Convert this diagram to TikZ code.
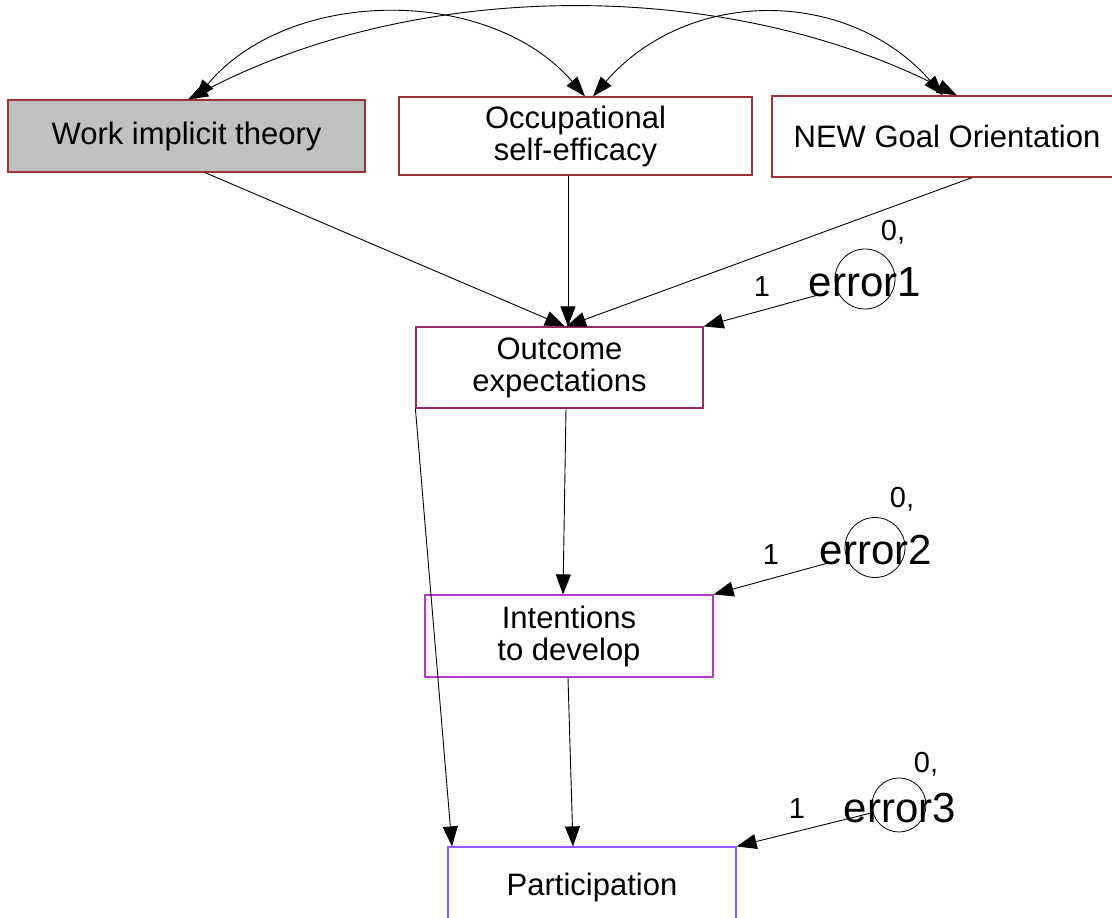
\documentclass[tikz,border=0pt]{standalone}
\usepackage{fontspec}
\setmainfont{Liberation Sans}
\usetikzlibrary{arrows.meta}
\definecolor{topred}{RGB}{160,50,50}
\definecolor{outred}{RGB}{153,40,100}
\definecolor{intpurple}{RGB}{175,60,195}
\definecolor{partviolet}{RGB}{150,85,255}
\definecolor{boxgray}{RGB}{192,192,192}
\tikzset{
  box/.style={rectangle, draw, line width=1.2pt, inner sep=0pt, align=center,
    font=\fontsize{31}{32}\selectfont},
  errcirc/.style={circle, draw, line width=0.8pt, inner sep=0pt},
  errtext/.style={inner sep=0pt, font=\fontsize{42}{42}\selectfont},
  lab/.style={inner sep=0pt, font=\fontsize{29}{29}\selectfont},
  path/.style={line width=0.9pt, -{Triangle[length=20pt,width=15pt]}},
  cov/.style={line width=0.9pt, {Triangle[length=20pt,width=14pt]}-{Triangle[length=20pt,width=14pt]}}
}
\begin{document}
\begin{tikzpicture}[x=1pt,y=-1pt]
\useasboundingbox (0,0) rectangle (1112,918);
% boxes
\node[box, draw=topred, fill=boxgray, minimum width=357pt, minimum height=72pt] (work) at (186.5,136) {Work implicit theory};
\node[box, draw=topred, minimum width=353pt, minimum height=78pt] (occ) at (575.5,136) {Occupational\\self-efficacy};
\node[box, draw=topred, minimum width=350pt, minimum height=81pt] (goal) at (947,136.5) {NEW Goal Orientation};
\node[box, draw=outred, minimum width=287pt, minimum height=81pt] (outc) at (559.5,367.5) {Outcome\\expectations};
\node[box, draw=intpurple, minimum width=288pt, minimum height=82pt] (intent) at (569,636) {Intentions\\to develop};
\node[box, draw=partviolet, minimum width=288pt, minimum height=81pt] (part) at (592,887.5) {Participation};
% error terms
\node[errcirc, minimum size=60pt] (e1) at (865,279) {};
\node[errtext] (e1t) at (865,282) {error1};
\node[lab] (e1v) at (893,232) {0,};
\node[lab] (e1w) at (762,287) {1};
\node[errcirc, minimum size=60pt] (e2) at (875,547.5) {};
\node[errtext] (e2t) at (876,550) {error2};
\node[lab] (e2v) at (902,499) {0,};
\node[lab] (e2w) at (771,555) {1};
\node[errcirc, minimum size=54pt] (e3) at (899,805) {};
\node[errtext] (e3t) at (900,808) {error3};
\node[lab] (e3v) at (926,764) {0,};
\node[lab] (e3w) at (797,809) {1};
% covariances
\draw[cov] ([xshift=8.5pt]work.north) .. controls (290,-14) and (490,-14) .. ([xshift=9.5pt]occ.north);
\draw[cov] ([xshift=1.5pt]work.north) .. controls (420,-22) and (725,-22) .. ([xshift=10pt]goal.north);
\draw[cov] ([xshift=17.5pt]occ.north) .. controls (688,-13) and (848,-13) .. ([xshift=-4pt]goal.north);
% regression paths
\draw[path] ([xshift=18.5pt]work.south) -- ([xshift=5.5pt]outc.north);
\draw[path] ([xshift=-7.5pt]occ.south) -- ([xshift=8.5pt]outc.north);
\draw[path] ([xshift=25pt]goal.south) -- ([xshift=6.5pt]outc.north);
\draw[path] (outc.south west) -- ([xshift=-140pt]part.north);
\draw[path] ([xshift=6.5pt]outc.south) -- ([xshift=-6pt]intent.north);
\draw[path] ([xshift=-1pt]intent.south) -- ([xshift=-19pt]part.north);
\draw[path] ([shift={(-47,16)}]e1.center) -- (outc.north east);
\draw[path] ([shift={(-47,15.5)}]e2.center) -- (intent.north east);
\draw[path] ([shift={(-28,8)}]e3.center) -- (part.north east);
\end{tikzpicture}
\end{document}
